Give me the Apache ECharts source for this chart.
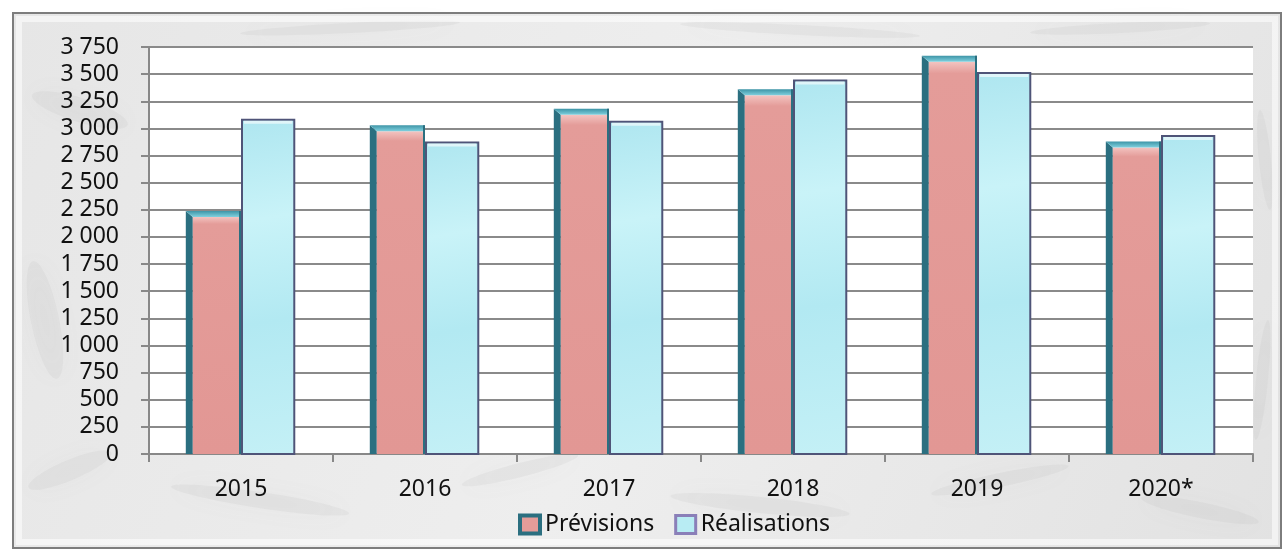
<!DOCTYPE html>
<html lang="fr">
<head>
    <meta charset="UTF-8">
    <title>Prévisions et réalisations</title>
    <style>
        html, body { margin: 0; padding: 0; background: #fff; }
        #box { width: 1286px; height: 554px; }
    </style>
</head>
<body>
<div id="box"></div>
<script src="https://cdn.jsdelivr.net/npm/echarts@6/dist/echarts.min.js"></script>
<script>
    // données
    var years = ['2015', '2016', '2017', '2018', '2019', '2020*'];
    var previsions = [2240, 3030, 3180, 3360, 3670, 2880];
    var realisations = [3090, 2880, 3070, 3450, 3520, 2940];
    var yTicks = [0, 250, 500, 750, 1000, 1250, 1500, 1750, 2000, 2250, 2500, 2750, 3000, 3250, 3500, 3750];

    var fontName = '"Noto Sans", "DejaVu Sans", sans-serif';
    var teal = '#2b6f80';
    var slate = '#4f5478';

    function fmt(v) {
        if (v < 1000) return String(v);
        var r = String(v % 1000);
        while (r.length < 3) r = '0' + r;
        return Math.floor(v / 1000) + ' ' + r;
    }

    // colonne rose avec côté et dessus en relief
    function renderPrev(params, api) {
        var top = api.coord([api.value(0), api.value(1)]);
        var base = api.coord([api.value(0), 0]);
        var w = api.size([1, 0])[0] * 0.3;
        var x0 = top[0] - w, x1 = top[0];
        var yT = top[1], yB = base[1];
        var side = 7, cap = 6;
        return {
            type: 'group',
            children: [
                {type: 'polygon', shape: {points: [[x0, yT], [x0 + side, yT + cap], [x0 + side, yB], [x0, yB]]},
                    style: {fill: teal}},
                {type: 'rect', shape: {x: x0 + side, y: yT + cap, width: w - side - 2, height: yB - yT - cap},
                    style: {fill: new echarts.graphic.LinearGradient(0, 0, 0, 1, [
                        {offset: 0, color: '#f3c4c1'}, {offset: 0.03, color: '#e49c99'}, {offset: 1, color: '#e29794'}])}},
                {type: 'polygon', shape: {points: [[x0, yT], [x1, yT], [x1 - 2, yT + cap], [x0 + side, yT + cap]]},
                    style: {fill: new echarts.graphic.LinearGradient(0, 0, 0, 1, [
                        {offset: 0, color: '#3d94a6'}, {offset: 1, color: '#7fd0de'}])}},
                {type: 'rect', shape: {x: x1 - 2, y: yT, width: 2, height: yB - yT}, style: {fill: teal}}
            ]
        };
    }

    // colonne bleu clair
    function renderReal(params, api) {
        var top = api.coord([api.value(0), api.value(1)]);
        var base = api.coord([api.value(0), 0]);
        var w = api.size([1, 0])[0] * 0.295;
        var x0 = top[0];
        return {
            type: 'group',
            children: [
                {type: 'rect', shape: {x: x0 + 1, y: top[1] + 1, width: w - 2, height: base[1] - top[1] - 1},
                    style: {
                        fill: new echarts.graphic.LinearGradient(0, 0, 1, 1, [
                            {offset: 0, color: '#aee6f0'}, {offset: 0.3, color: '#c9f3f8'},
                            {offset: 0.6, color: '#b2e9f2'}, {offset: 1, color: '#c4f0f6'}]),
                        stroke: slate, lineWidth: 2
                    }},
                {type: 'rect', shape: {x: x0 + 3, y: top[1] + 2, width: w - 6, height: 3},
                    style: {fill: 'rgba(255,255,255,0.6)'}}
            ]
        };
    }

    var chart = echarts.init(document.getElementById('box'), null, {renderer: 'canvas'});

    // fond marbré : quelques veines grises floues
    var veins = [
        [80, 110, 50, 12, -0.3], [45, 320, 14, 60, 0.2], [70, 470, 45, 10, 0.4], [260, 500, 90, 8, -0.15],
        [520, 470, 60, 7, 0.25], [760, 505, 90, 8, -0.1], [1000, 480, 70, 7, 0.2], [1200, 510, 60, 8, -0.2],
        [1265, 160, 6, 50, 0.1], [1262, 380, 6, 60, -0.1], [350, 28, 110, 5, 0.05], [800, 30, 120, 5, -0.05],
        [1120, 28, 90, 5, 0.05]
    ];
    var graphics = [
        {type: 'rect', left: 13, top: 13, shape: {width: 1268, height: 535},
            style: {fill: new echarts.graphic.LinearGradient(0, 0, 1, 1, [
                {offset: 0, color: '#e6e6e6'}, {offset: 0.5, color: '#eeeeee'}, {offset: 1, color: '#e2e2e2'}])}, z: -10}
    ];
    veins.forEach(function (b) {
        graphics.push({type: 'ellipse', x: b[0], y: b[1], rotation: b[4], shape: {cx: 0, cy: 0, rx: b[2], ry: b[3]},
            style: {fill: 'rgba(170,170,170,0.12)', shadowBlur: 24, shadowColor: 'rgba(150,150,150,0.35)'}, z: -9});
    });
    graphics.push(
        {type: 'rect', shape: {x: 19, y: 19, width: 1256, height: 523},
            style: {fill: null, stroke: 'rgba(255,255,255,0.55)', lineWidth: 6}, z: -8},
        {type: 'rect', shape: {x: 13, y: 13, width: 1268, height: 535},
            style: {fill: null, stroke: '#7d7d7d', lineWidth: 2}, z: -8}
    );

    var option = {
        animation: false,
        backgroundColor: '#ffffff',
        graphic: graphics,
        grid: {
            left: 149, right: 33, top: 47, bottom: 100,
            show: true, backgroundColor: '#ffffff', borderWidth: 0
        },
        legend: {
            left: 513, top: 508,
            itemWidth: 20, itemHeight: 18, itemGap: 20,
            icon: 'rect',
            textStyle: {fontFamily: fontName, fontSize: 23, color: '#111'},
            data: [
                {name: 'Prévisions', itemStyle: {color: '#e49c99', borderColor: teal, borderWidth: 4}},
                {name: 'Réalisations', itemStyle: {color: '#b8ecf3', borderColor: '#8a7fb8', borderWidth: 3}}
            ]
        },
        xAxis: {
            type: 'category',
            data: years,
            axisLine: {lineStyle: {color: '#888', width: 2}},
            axisTick: {show: true, length: 8, lineStyle: {color: '#888', width: 2}},
            axisLabel: {fontFamily: fontName, fontSize: 23, color: '#111', margin: 24}
        },
        yAxis: {
            type: 'value',
            min: yTicks[0], max: yTicks[yTicks.length - 1], interval: 250,
            axisLine: {show: true, lineStyle: {color: '#888', width: 2}},
            axisTick: {show: true, length: 8, lineStyle: {color: '#888', width: 2}},
            splitLine: {lineStyle: {color: '#8a8a8a', width: 2}},
            axisLabel: {fontFamily: fontName, fontSize: 23, color: '#111', margin: 30, formatter: fmt}
        },
        series: [
            {
                name: 'Prévisions', type: 'custom', renderItem: renderPrev,
                itemStyle: {color: '#e49c99'},
                encode: {x: 0, y: 1},
                data: previsions.map(function (v, i) { return [i, v]; }),
                z: 3
            },
            {
                name: 'Réalisations', type: 'custom', renderItem: renderReal,
                itemStyle: {color: '#b8ecf3'},
                encode: {x: 0, y: 1},
                data: realisations.map(function (v, i) { return [i, v]; }),
                z: 3
            }
        ]
    };
    chart.setOption(option);
</script>
</body>
</html>
